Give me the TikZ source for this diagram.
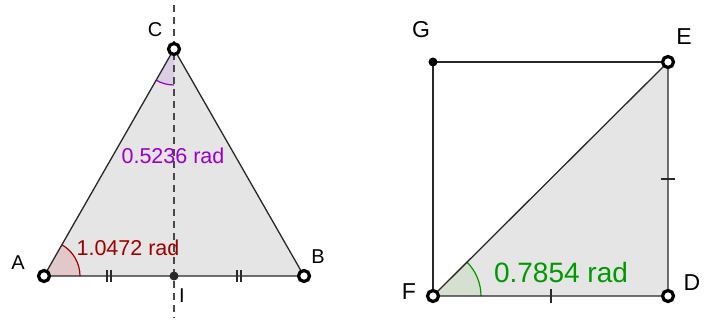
\documentclass[tikz,border=0pt]{standalone}
\usepackage{fontspec}
\usetikzlibrary{calc}
\setmainfont{Liberation Sans}
\definecolor{ggred}{RGB}{160,0,0}
\definecolor{ggredfill}{RGB}{226,200,200}
\definecolor{ggpurple}{RGB}{153,0,204}
\definecolor{ggpurplefill}{RGB}{220,205,230}
\definecolor{gggreen}{RGB}{0,153,0}
\definecolor{gggreenfill}{RGB}{213,224,208}
\definecolor{gggray}{RGB}{229,229,229}
\definecolor{ggline}{RGB}{40,40,40}
\begin{document}
\begin{tikzpicture}[x=1pt,y=-1pt,
  edge/.style={draw=ggline,line width=1.3pt},
  openpt/.style={circle,draw=black,fill=white,line width=3.2pt,minimum size=11pt,inner sep=0pt},
  dotpt/.style={circle,fill=black,minimum size=9pt,inner sep=0pt},
  graypt/.style={circle,fill=ggline,minimum size=9pt,inner sep=0pt},
  ptlabel/.style={font=\fontsize{20}{22}\selectfont,inner sep=0pt},
  ptlabelb/.style={font=\fontsize{23}{25}\selectfont,inner sep=0pt},
  tick/.style={draw=ggline,line width=1.4pt}]
\useasboundingbox (0,0) rectangle (706,320);
% ---------- left triangle ----------
\coordinate (A) at (44,276);
\coordinate (B) at (304,276);
\coordinate (C) at (174,49);
\coordinate (I) at (174,276);
\coordinate (Dtop) at (174,5);
\coordinate (Dbot) at (174,318);
\fill[gggray] (A) -- (B) -- (C) -- cycle;
% angle at A
\fill[ggredfill] (A) -- ++(36,0) arc[start angle=0,end angle=-60,radius=36] -- cycle;
\draw[ggred,line width=1.2pt] ($(A)+(36,0)$) arc[start angle=0,end angle=-60,radius=36];
% angle at C
\fill[ggpurplefill] (C) -- ++(0,36) arc[start angle=90,end angle=120,radius=36] -- cycle;
\draw[ggpurple,line width=1.2pt] ($(C)+(0,36)$) arc[start angle=90,end angle=120,radius=36];
\draw[edge] (A) -- (B) -- (C) -- cycle;
\draw[ggline!85,line width=1.5pt,dash pattern=on 7pt off 5pt] (Dtop) -- (Dbot);
% ticks
\draw[tick] (107,270) -- (107,282) (111,270) -- (111,282);
\draw[tick] (237,270) -- (237,282) (241,270) -- (241,282);
\node[graypt] (Ipt) at (I) {};
\node[openpt] (Apt) at (A) {};
\node[openpt] (Bpt) at (B) {};
\node[openpt] (Cpt) at (C) {};
\node[ptlabel] (lA) at (18,263) {A};
\node[ptlabel] (lB) at (318,257) {B};
\node[ptlabel] (lC) at (155,30) {C};
\node[ptlabel] (lI) at (182,296) {I};
\node[font=\fontsize{21.5}{24}\selectfont,text=ggred,inner sep=0pt] (angA) at (128,248) {1.0472 rad};
\node[font=\fontsize{21.5}{24}\selectfont,text=ggpurple,inner sep=0pt] (angC) at (173,156) {0.5236 rad};
% ---------- right square ----------
\coordinate (G) at (433,62);
\coordinate (E) at (668,62);
\coordinate (F) at (433,296);
\coordinate (D) at (668,296);
\fill[gggray] (F) -- (D) -- (E) -- cycle;
\fill[gggreenfill] (F) -- ++(48,0) arc[start angle=0,end angle=-45,radius=48] -- cycle;
\draw[gggreen,line width=1.2pt] ($(F)+(48,0)$) arc[start angle=0,end angle=-45,radius=48];
\draw[edge] (F) -- (G) -- (E);
\draw[edge] (F) -- (D) -- (E) -- cycle;
\draw[tick] (551,289) -- (551,303);
\draw[tick] (661,179) -- (675,179);
\node[dotpt] (Gpt) at (G) {};
\node[openpt] (Ept) at (E) {};
\node[openpt] (Fpt) at (F) {};
\node[openpt] (Dpt) at (D) {};
\node[ptlabelb] (lG) at (421,30) {G};
\node[ptlabelb] (lE) at (684,37) {E};
\node[ptlabelb] (lF) at (409,292) {F};
\node[ptlabelb] (lD) at (692,283) {D};
\node[font=\fontsize{28}{30}\selectfont,text=gggreen,inner sep=0pt] (angF) at (561,272) {0.7854 rad};
\end{tikzpicture}
\end{document}
